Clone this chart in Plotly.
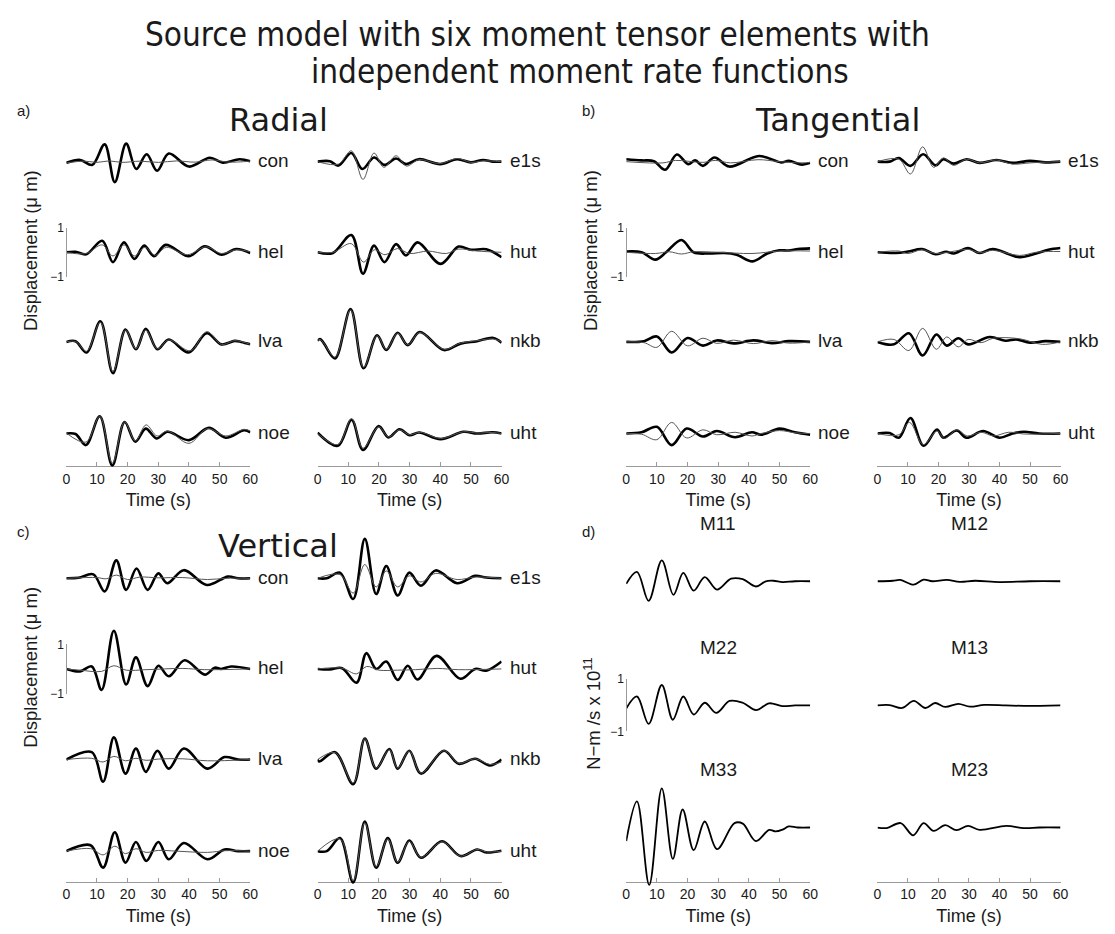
import plotly.graph_objects as go

# ---------------------------------------------------------------- data
TIME_TICKS = [0, 10, 20, 30, 40, 50, 60]
LEFT_STATIONS = ["con", "hel", "lva", "noe"]
RIGHT_STATIONS = ["e1s", "hut", "nkb", "uht"]
LEFT_MOMENTS = ["M11", "M22", "M33"]
RIGHT_MOMENTS = ["M12", "M13", "M23"]

# (time s, displacement um) samples
RADIAL_OBS = {
    "con": [(0,-0.05),(4.5,0.07),(8.5,-0.13),(12.5,0.7),(15.8,-0.83),(19.5,0.73),(22.8,-0.3),(26.2,0.3),(29.6,-0.37),(33.4,0.33),(40,-0.2),(46.8,0.16),(51,-0.04),(56.5,0.1),(60,0.02)],
    "hel": [(0,0),(3,0.02),(6.5,-0.08),(11.7,0.47),(15.2,-0.4),(18.8,0.4),(22.2,-0.27),(25.4,0.27),(28.6,-0.16),(32.4,0.3),(39.9,-0.16),(45.2,0.24),(50.6,-0.1),(55.4,0.13),(60,-0.03)],
    "lva": [(0,0),(3,0.03),(6.6,-0.43),(11.1,0.84),(15.2,-1.27),(19.3,0.5),(22.7,-0.3),(25.9,0.53),(29.7,-0.3),(33.4,0.1),(39.9,-0.43),(45.8,0.35),(50.6,-0.1),(54.9,0.04),(57,0.0),(60,-0.1)],
    "noe": [(0,0),(3,-0.02),(6.4,-0.47),(10.9,0.7),(15,-1.3),(19,0.47),(22.5,-0.33),(25.9,0.2),(29.4,-0.2),(33,0.07),(40,-0.27),(46.5,0.23),(52,-0.17),(58,0.13),(60,0.05)],
    "e1s": [(0,0),(4,0.02),(6.8,-0.16),(11,0.35),(14.6,-0.3),(18.4,0.17),(21.8,-0.13),(25.6,0.13),(28.8,-0.1),(33,0.1),(40,-0.1),(45.5,0.1),(50,-0.03),(54,0.07),(57,0.0),(60,0)],
    "hut": [(0,0),(5,-0.03),(11,0.7),(14.8,-0.87),(18.4,0.27),(21.8,-0.4),(25.6,0.33),(28.8,-0.13),(32.6,0.4),(40.1,-0.47),(46,0.23),(50,0.1),(55,0.12),(60,-0.2)],
    "nkb": [(0,0.05),(0.8,0.12),(2,-0.05),(5.7,-0.67),(10.75,1.33),(15,-1.07),(19.4,0.27),(22.4,-0.33),(26.1,0.37),(29.4,-0.13),(33.3,0.4),(41.2,-0.33),(46.6,-0.07),(52,0.03),(57.3,0.16),(60,-0.03)],
    "uht": [(0,0.03),(6.6,-0.5),(11.1,0.56),(14.8,-0.67),(19.9,0.3),(23.1,-0.16),(26.7,0.17),(30,-0.07),(33.1,0.04),(40.1,-0.23),(47.6,0.07),(52,0),(57,0.05),(60,0)],
}
RADIAL_SYN = {
    "con": [(0,-0.05),(6,0.02),(10,-0.03),(14,0.03),(18,-0.03),(24,0.02),(30,-0.03),(36,0.03),(42,-0.02),(47.5,0.07),(53,-0.02),(60,0.02)],
    "hel": [(0,0),(6.5,-0.05),(11.7,0.3),(15.2,-0.15),(18.8,0.3),(22.2,-0.15),(25.6,0.2),(29,-0.12),(32.6,0.2),(39.5,-0.1),(45.5,0.22),(50.6,-0.05),(55.4,0.1),(60,0.02)],
    "lva": [(0,0),(3,0.02),(6.6,-0.38),(11.1,0.8),(15.2,-1.2),(19.3,0.48),(22.7,-0.28),(25.9,0.48),(29.7,-0.28),(33.4,0.08),(40.5,-0.36),(45.8,0.42),(50.6,-0.1),(55,0.05),(60,-0.1)],
    "noe": [(0,0.02),(6.4,-0.35),(10.9,0.7),(15,-1.2),(19,0.47),(22.5,-0.3),(26,0.35),(29.6,-0.1),(33,0.1),(40,-0.4),(46,0.2),(52,-0.1),(58,0.17),(60,0.1)],
    "e1s": [(0,0),(6.8,-0.1),(11,0.44),(14.8,-0.72),(18.4,0.35),(21.6,-0.23),(25.6,0.24),(29,-0.18),(33,0.08),(40,-0.08),(45.5,0.13),(50,-0.03),(54,0.03),(60,0)],
    "hut": [(0,0),(5,0),(11,0.35),(15,-0.4),(18.5,0.1),(22,-0.1),(26,0.15),(30,-0.05),(36,0.05),(42,-0.05),(46,0.13),(52,0.05),(60,0)],
    "nkb": [(0,0.05),(0.8,0.1),(2,-0.05),(5.7,-0.62),(10.75,1.3),(15,-1.03),(19.4,0.25),(22.4,-0.3),(26.1,0.35),(29.4,-0.12),(33.3,0.38),(41.2,-0.3),(46.6,-0.05),(52,0.05),(57.3,0.12),(60,0)],
    "uht": [(0,0),(6.6,-0.45),(11.1,0.6),(14.8,-0.6),(19.9,0.27),(23.1,-0.14),(26.7,0.15),(30,-0.05),(33.5,0.05),(40.1,-0.2),(47.6,0.07),(52,0.02),(57,0.04),(60,0)],
}
TANGENTIAL_OBS = {
    "con": [(0,0.1),(5,0.05),(9,0.02),(12.7,-0.33),(16.5,0.29),(20.2,-0.1),(22.5,0.05),(25,-0.17),(28.8,0.17),(33.6,-0.2),(43.3,0.23),(50.5,-0.03),(53,0.03),(57.3,-0.12),(60,-0.05)],
    "hel": [(0,0.03),(5,0.0),(9.5,-0.3),(13,0.0),(18,0.5),(22,0.0),(27,-0.05),(32,-0.03),(36,-0.1),(41.2,-0.37),(46,-0.05),(50,0.08),(53,0.07),(56,0.13),(60,0.16)],
    "lva": [(0,0),(5.8,0.03),(10,0.22),(14.8,-0.43),(20,0.16),(25,-0.15),(29.5,0.06),(35,-0.06),(41.5,0.06),(47.5,-0.05),(53,0.03),(60,0)],
    "noe": [(0,0),(5,0.05),(10,0.27),(14.8,-0.47),(19.7,0.2),(25,-0.12),(29.5,0.1),(35.5,-0.15),(41,0.05),(44,-0.05),(50,0.2),(55,0.05),(60,-0.05)],
    "e1s": [(0,0),(4,0.0),(7,0.15),(10.8,-0.17),(15,0.3),(19,-0.15),(21.6,0.1),(24.9,-0.08),(29.2,0.1),(33.5,-0.05),(39,0.07),(44.3,-0.05),(50,0.03),(55,-0.03),(60,0)],
    "hut": [(0,0),(6,-0.03),(10,0.03),(14.6,0.13),(19,-0.08),(22.5,0.02),(25,-0.05),(29.7,0.17),(33.5,-0.03),(37.8,0.13),(46.5,-0.2),(52,-0.05),(56,0.1),(60,0.17)],
    "nkb": [(0,0),(5.4,-0.1),(10.3,0.35),(14.8,-0.55),(19.3,0.3),(22.7,-0.15),(26.5,0.15),(29.7,-0.1),(36.8,0.2),(42,0.05),(45.5,0.1),(50,-0.03),(55,0.03),(60,0)],
    "uht": [(0,0),(4,0.02),(7,-0.17),(10.8,0.63),(15.1,-0.5),(19.5,0.16),(21.6,-0.17),(26,0.12),(29.2,-0.17),(34.6,0.1),(40,-0.17),(44.3,0.0),(48,0.07),(53,0),(60,0)],
}
TANGENTIAL_SYN = {
    "con": [(0,0),(12,-0.05),(16,0.05),(25,-0.03),(29,0.05),(34,-0.05),(43,0.08),(50,0),(57,-0.05),(60,-0.03)],
    "hel": [(0,0),(9.5,-0.05),(14,0.02),(18,-0.07),(22,0.02),(30,0),(41,-0.05),(50,0.05),(60,0.05)],
    "lva": [(0,0),(5.8,-0.03),(10,-0.22),(14.8,0.43),(20,-0.16),(25,0.15),(29.5,-0.06),(35,0.07),(41.5,-0.07),(47.5,0.05),(53,-0.05),(60,0)],
    "noe": [(0,0),(5,-0.03),(10,-0.25),(14.8,0.45),(19.7,-0.18),(25,0.15),(29.5,-0.05),(35.5,0.05),(41,-0.1),(44,0),(50,0.12),(55,0.03),(60,0)],
    "e1s": [(0,0),(7,0.1),(10.8,-0.5),(14.8,0.6),(18.4,-0.23),(21.6,0.15),(24.9,-0.15),(29.2,0.1),(33.5,-0.05),(39,0.07),(44.3,-0.1),(50,-0.05),(55,-0.02),(60,0)],
    "hut": [(0,0),(7,0.05),(10,-0.05),(14.6,0.1),(19,-0.05),(24,0.02),(29.7,0.12),(33.5,-0.02),(37.8,0.08),(46.5,-0.13),(52,0),(56,0.03),(60,0.03)],
    "nkb": [(0,0),(5.4,0.1),(10.3,-0.35),(14.8,0.55),(19.3,-0.3),(22.7,0.2),(26.5,-0.2),(29.7,0.1),(34,-0.03),(38,0.15),(46.5,0.13),(54,-0.1),(60,0)],
    "uht": [(0,0),(7,-0.05),(10.5,0.45),(15,-0.45),(19.5,0.1),(22,-0.2),(26,0.15),(29.5,-0.1),(34,0.05),(38,-0.1),(43,0.05),(48,-0.02),(60,0)],
}
VERTICAL_OBS = {
    "con": [(0,0),(4,0.02),(8.8,0.16),(12.5,-0.53),(16.3,0.73),(19.5,-0.47),(22.9,0.4),(26.5,-0.47),(30,0.2),(32.9,-0.2),(38.3,0.33),(45.8,-0.27),(52.7,0.07),(56,0.0),(60,0)],
    "hel": [(0,0),(4.5,-0.1),(8.3,0.1),(11.5,-0.85),(15.5,1.55),(19.5,-0.63),(22.7,0.47),(26.5,-0.7),(30,0.13),(33.4,-0.3),(38.6,0.35),(45.2,-0.23),(48.4,0.05),(50.5,0.0),(53.8,0.1),(60,0)],
    "lva": [(0,0),(8.3,0.3),(12,-0.9),(15.5,0.9),(19.3,-0.57),(22.7,0.45),(25.9,-0.5),(29.7,0.36),(33.4,-0.37),(38.3,0.45),(46,-0.37),(51.6,0.1),(56,0.0),(60,0)],
    "noe": [(0,0),(7.9,0.24),(12,-0.67),(15.8,0.77),(19.3,-0.47),(22.7,0.37),(26.1,-0.4),(30,0.37),(33.4,-0.33),(38.3,0.33),(46,-0.33),(51.6,0.07),(56,0),(60,0)],
    "e1s": [(0,0),(3,0.0),(7.3,0.23),(11.6,-0.84),(15.4,1.6),(19.1,-0.64),(22.4,0.5),(26.1,-0.7),(29.9,0.23),(33.7,-0.3),(38.5,0.32),(45.5,-0.2),(51.4,0.1),(55,0.03),(60,0)],
    "hut": [(0,0),(4,-0.02),(8,0.03),(12.7,-0.56),(15.9,0.64),(19.1,0.0),(22.4,0.3),(26.1,-0.45),(29.4,0.13),(32.6,-0.43),(38.8,0.53),(46.6,-0.4),(51.4,0.0),(55,-0.07),(60,0.3)],
    "nkb": [(0,0),(0.5,-0.08),(5.7,0.3),(11.6,-1.0),(15.4,0.85),(19.1,-0.37),(23.4,0.43),(26.1,-0.37),(29.9,0.36),(33.7,-0.57),(41.2,0.36),(46,-0.17),(51.4,0.03),(56.2,-0.24),(60,0)],
    "uht": [(0,0),(3,0.0),(7.3,0.53),(11.6,-1.27),(15.4,1.2),(19.1,-0.67),(22.9,0.53),(26.1,-0.47),(29.9,0.43),(33.7,-0.27),(40.6,0.4),(46.6,-0.2),(52,0.07),(55,-0.05),(60,0.02)],
}
VERTICAL_SYN = {
    "con": [(0,0),(10,0.03),(13,-0.02),(16.3,0.13),(20,-0.05),(24,0.05),(30,0.02),(38,0.03),(46,-0.05),(52,0),(60,0)],
    "hel": [(0,0),(4.5,-0.05),(11.5,-0.1),(15.5,0.13),(19.5,-0.05),(26,-0.03),(38,0.02),(45,-0.03),(60,0)],
    "lva": [(0,0),(8.3,0.05),(12,-0.1),(15.5,0.13),(19.3,-0.05),(22.7,0.05),(26,-0.03),(30,0.02),(38,0.03),(46,-0.05),(60,0)],
    "noe": [(0,0),(8,0.1),(12,-0.15),(15.8,0.2),(19.3,-0.1),(22.7,0.1),(26,-0.05),(30,0.03),(36,0),(46,-0.05),(52,0.02),(60,0)],
    "e1s": [(0,0),(7.3,0.15),(11.6,-0.6),(15.4,0.56),(19.1,-0.35),(22.4,0.3),(26.1,-0.35),(29.9,0.1),(33.7,-0.15),(38.5,0.2),(45.5,-0.05),(51.4,0.05),(60,0)],
    "hut": [(0,0),(8,0.03),(12.7,-0.2),(16,0.1),(20,-0.05),(26,-0.05),(32,-0.03),(39,0.02),(46,-0.03),(60,0)],
    "nkb": [(0,0),(5.7,0.28),(11.6,-0.95),(15.4,0.85),(19.1,-0.35),(23.4,0.4),(26.1,-0.35),(29.9,0.35),(33.7,-0.55),(41.2,0.36),(46,-0.15),(51.4,0.03),(56.2,-0.2),(60,-0.1)],
    "uht": [(0,0),(7.3,0.5),(11.6,-1.2),(15.4,1.15),(19.1,-0.63),(22.9,0.5),(26.1,-0.45),(29.9,0.4),(33.7,-0.25),(40.6,0.38),(46.6,-0.2),(52,0.07),(55,-0.03),(60,0)],
}
# (time s, moment rate in 1e11 N-m/s)
MOMENT_RATE = {
    "M11": [(0,-0.1),(3.5,0.36),(7.3,-0.75),(11.6,0.8),(15.4,-0.52),(18.6,0.32),(22,-0.36),(25.6,0.16),(29.6,-0.32),(34.2,0.1),(38,0.08),(42.3,-0.2),(45.5,0.0),(48,0.02),(51,-0.03),(55,0),(60,0)],
    "M22": [(0,-0.12),(3.5,0.34),(7.3,-0.71),(11.6,0.78),(15.2,-0.55),(18.6,0.34),(22,-0.35),(25.6,0.1),(29.4,-0.29),(33.7,0.17),(38,0.1),(42.3,-0.18),(46.6,0.08),(50.9,-0.03),(55,0),(60,0)],
    "M33": [(0,-0.52),(3.5,1.0),(7.5,-2.2),(11.6,1.5),(15.2,-1.2),(18.4,0.69),(22,-0.87),(25.6,0.23),(29.6,-0.83),(35.3,0.17),(38,0.15),(42.3,-0.52),(46.6,-0.09),(48.7,-0.15),(51,-0.08),(53,0.04),(56,0),(60,0)],
    "M12": [(0,0),(5,0.02),(7.5,0.05),(11.9,-0.13),(15.1,0.06),(18,0),(22.7,0.05),(27,-0.02),(32,0.02),(40,-0.03),(50,0),(60,0)],
    "M13": [(0,0),(4,0.01),(8.1,-0.1),(11.9,0.17),(15.7,-0.1),(18.9,0.09),(22.2,-0.06),(26.5,0.06),(30.3,-0.05),(35,0.02),(42,0),(48,-0.02),(60,0)],
    "M23": [(0,0),(3,-0.02),(7.6,0.17),(11.7,-0.3),(15.1,0.17),(18.4,-0.13),(22.2,0.09),(25.9,-0.1),(29.7,0.06),(33.5,-0.09),(42.2,0.06),(48,-0.02),(53,0),(60,0)],
}

# ---------------------------------------------------------------- layout
W, H = 1115, 934
FONT = "Liberation Sans, Arial, Helvetica, sans-serif"
TITLE_FONT = "DejaVu Sans Condensed, Liberation Sans Narrow, DejaVu Sans, sans-serif"
PANEL_FONT = "DejaVu Sans, Verdana, sans-serif"
GREY = "#9a9a9a"
INK = "#1a1a1a"


def fx(px):
    return px / W


def fy(py):
    return 1 - py / H


fig = go.Figure()
layout = dict(width=W, height=H, margin=dict(l=0, r=0, t=0, b=0),
              paper_bgcolor="white", plot_bgcolor="rgba(0,0,0,0)", showlegend=False)
annotations = []
count = {"x": 0, "y": 0}


def aname(kind, n):
    return f"{kind}axis" if n == 1 else f"{kind}axis{n}"


def aref(kind, n):
    return kind if n == 1 else f"{kind}{n}"


def add_xaxis(x0, x1, axis_y):
    count["x"] += 1
    n = count["x"]
    layout[aname("x", n)] = dict(
        domain=[fx(x0), fx(x1)], range=[0, 60], anchor="free", position=fy(axis_y),
        showline=True, linecolor=GREY, linewidth=1, ticks="inside", ticklen=4,
        tickcolor=GREY, tickvals=TIME_TICKS, showgrid=False, zeroline=False,
        tickfont=dict(family=FONT, size=14, color=INK), fixedrange=True,
        title=dict(text="Time (s)", font=dict(family=FONT, size=18, color=INK), standoff=7))
    return n


def add_row_axis(base, unit, xn, half=62):
    count["y"] += 1
    n = count["y"]
    layout[aname("y", n)] = dict(
        domain=[fy(base + half), fy(base - half)], range=[-half / unit, half / unit],
        anchor=aref("x", xn), visible=False, fixedrange=True)
    return n


def add_scale_bar(base, unit, x0, xn):
    count["y"] += 1
    n = count["y"]
    layout[aname("y", n)] = dict(
        domain=[fy(base + unit), fy(base - unit)], range=[-1, 1], anchor="free",
        position=fx(x0), showline=True, linecolor=GREY, linewidth=1, ticks="inside",
        ticklen=4, tickcolor=GREY, tickvals=[-1, 1], ticktext=["\u22121", "1"],
        tickfont=dict(family=FONT, size=12, color=INK), showgrid=False,
        zeroline=False, fixedrange=True)
    fig.add_trace(go.Scatter(x=[None], y=[None], xaxis=aref("x", xn), yaxis=aref("y", n),
                             mode="lines", hoverinfo="skip", showlegend=False))


def add_line(pts, xn, yn, width, color):
    fig.add_trace(go.Scatter(
        x=[p[0] for p in pts], y=[p[1] for p in pts],
        xaxis=aref("x", xn), yaxis=aref("y", yn), mode="lines",
        line=dict(color=color, width=width, shape="spline", smoothing=1.0),
        hoverinfo="skip", showlegend=False))


def text(s, x, y, size, family=FONT, xanchor="center", yanchor="middle", angle=0):
    annotations.append(dict(text=s, x=fx(x), y=fy(y), xref="paper", yref="paper",
                            showarrow=False, xanchor=xanchor, yanchor=yanchor,
                            textangle=angle, font=dict(family=family, size=size, color=INK)))


COLS_LEFT = [(63, 249), (317, 503)]
COLS_RIGHT = [(629, 815), (883, 1068)]
ROWS_TOP = [157, 249, 340, 433]
ROWS_BOTTOM = [580, 672, 764, 857]

WAVE_PANELS = [
    ("a)", "Radial", RADIAL_OBS, RADIAL_SYN, COLS_LEFT, ROWS_TOP, 466, (20, 105), (277, 115)),
    ("b)", "Tangential", TANGENTIAL_OBS, TANGENTIAL_SYN, COLS_RIGHT, ROWS_TOP, 466, (591, 105), (843, 115)),
    ("c)", "Vertical", VERTICAL_OBS, VERTICAL_SYN, COLS_LEFT, ROWS_BOTTOM, 888, (20, 532), (277, 547)),
]
UNIT = 25.0

for letter, title, obs, syn, cols, rows, axis_y, lpos, tpos in WAVE_PANELS:
    text(letter, lpos[0], lpos[1], 15)
    text(title, tpos[0], tpos[1], 32, family=PANEL_FONT)
    for ci, (x0, x1) in enumerate(cols):
        xn = add_xaxis(x0, x1, axis_y)
        names = LEFT_STATIONS if ci == 0 else RIGHT_STATIONS
        for ri, st in enumerate(names):
            yn = add_row_axis(rows[ri], UNIT, xn)
            add_line(obs[st], xn, yn, 2.6, "#000000")
            add_line(syn[st], xn, yn, 1.0, "#555555")
            text(st, x1 + 6, rows[ri] - 1, 19, xanchor="left")
        if ci == 0:
            add_scale_bar(rows[1], UNIT, x0, xn)
            text("Displacement (\u03bc m)", x0 - 36, rows[1] - 2, 18.5, angle=-90)

# panel d: moment rate functions
MOM_ROWS = [583, 709, 833]
MOM_UNIT = 26.5
text("d)", 591, 532, 15)
for ci, (x0, x1) in enumerate(COLS_RIGHT):
    xn = add_xaxis(x0, x1, 888)
    names = LEFT_MOMENTS if ci == 0 else RIGHT_MOMENTS
    for ri, m in enumerate(names):
        yn = add_row_axis(MOM_ROWS[ri], MOM_UNIT, xn, half=66)
        add_line(MOMENT_RATE[m], xn, yn, 1.8, "#000000")
        text(m, (x0 + x1) / 2, MOM_ROWS[ri] - 59, 19)
    if ci == 0:
        add_scale_bar(MOM_ROWS[1], MOM_UNIT, x0, xn)
        text("N\u2212m /s x 10<sup>11</sup>", x0 - 34, MOM_ROWS[1] + 8, 18.5, angle=-90)

# main title
text("Source model with six moment tensor elements with", 539, 28, 33, family=TITLE_FONT)
text("independent moment rate functions", 582, 65, 33, family=TITLE_FONT)

layout["annotations"] = annotations
fig.update_layout(**layout)
fig.write_html("out.html", config={"displayModeBar": False},
               post_script="document.body.style.margin='0';")
